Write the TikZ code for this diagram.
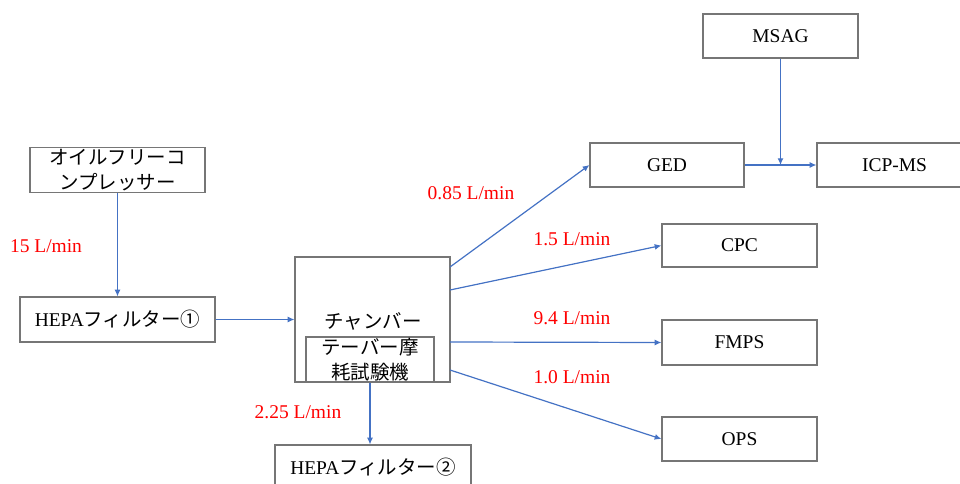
\documentclass[tikz,border=0pt]{standalone}
\usepackage{fontspec}
\setmainfont{Liberation Serif}
\newfontfamily\jp{Noto Sans CJK JP}
\usetikzlibrary{arrows.meta}
\definecolor{boxgray}{HTML}{767676}
\definecolor{flowblue}{HTML}{4472C4}
\definecolor{lblred}{HTML}{FF0000}
\tikzset{
  box/.style={draw=boxgray, line width=0.9pt, fill=white, minimum width=116.25pt, minimum height=33pt, inner sep=0pt, align=center, font=\fontsize{14.6}{18}\selectfont},
  flow/.style={draw=flowblue, line width=0.9pt, -{Latex[length=5pt,width=4.5pt]}},
  rate/.style={text=lblred, font=\fontsize{14.6}{18}\selectfont, inner sep=0pt}
}
\begin{document}
\begin{tikzpicture}[x=0.75pt,y=-0.75pt]
\useasboundingbox (0,0) rectangle (960,484);
\clip (0,0) rectangle (960,484);
% boxes
\node[box, minimum width=131.25pt, minimum height=33.75pt] (comp) at (117.5,170) {{\jp オイルフリーコ}\\[0.5pt]{\jp ンプレッサー}};
\node[box, minimum width=146.25pt, minimum height=33.75pt] (hepa1) at (117.5,319.5) {HEPA{\jp フィルター①}};
\node[box, minimum width=116.25pt, minimum height=93.75pt] (chamber) at (372.5,319.5) {};
\node[font=\fontsize{14.6}{18}\selectfont, inner sep=0pt] (chtext) at (373,321) {\jp チャンバー};
\node[box, minimum width=96pt, minimum height=33.75pt, fill=none] (taber) at (370,359.5) {{\jp テーバー摩}\\[0.5pt]{\jp 耗試験機}};
\node[box, minimum width=147pt, minimum height=33.75pt] (hepa2) at (373,467.5) {HEPA{\jp フィルター②}};
\node[box] (msag) at (780.5,36) {MSAG};
\node[box, minimum width=115.5pt] (ged) at (667,165) {GED};
\node[box] (icp) at (894.5,165) {ICP-MS};
\node[box, minimum height=32.25pt] (cpc) at (739.5,245.5) {CPC};
\node[box, minimum height=33.75pt] (fmps) at (739.5,342.5) {FMPS};
\node[box] (ops) at (739.5,439) {OPS};
% start points on the chamber
\coordinate (s1) at (450,267);
\coordinate (s2) at (450,290);
\coordinate (s3) at (450,342);
\coordinate (s4) at (450,370);
% connectors
\draw[flow] (comp.south) -- (hepa1.north);
\draw[flow] (hepa1.east) -- (chamber.west);
\draw[flow] (taber.south) -- (taber.south |- hepa2.north);
\draw[flow] (s1) -- (ged.west);
\draw[flow] (s2) -- (cpc.west);
\draw[flow] (s3) -- (fmps.west);
\draw[flow] (s4) -- (ops.west);
\draw[flow] (ged.east) -- (icp.west);
\draw[flow] (msag.south) -- (msag.south |- ged.east);
% rates
\node[rate] (r1) at (46,246) {15 L/min};
\node[rate] (r2) at (471,193) {0.85 L/min};
\node[rate] (r3) at (572,239) {1.5 L/min};
\node[rate] (r4) at (572,318) {9.4 L/min};
\node[rate] (r5) at (572,377) {1.0 L/min};
\node[rate] (r6) at (298,412) {2.25 L/min};
\end{tikzpicture}
\end{document}
